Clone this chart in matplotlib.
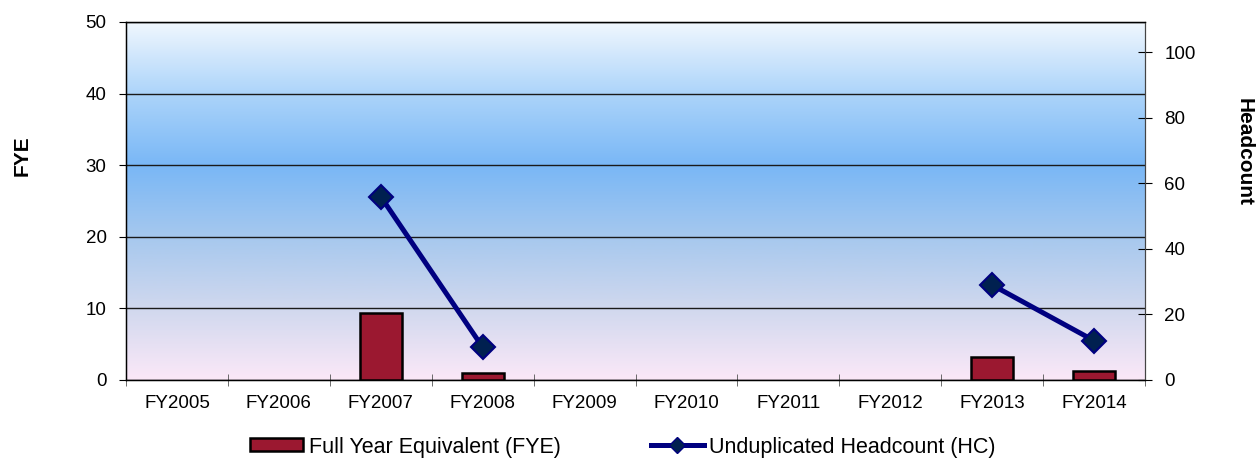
import matplotlib
matplotlib.use("Agg")
import matplotlib.pyplot as plt
import numpy as np
from matplotlib.colors import LinearSegmentedColormap
from matplotlib.lines import Line2D
from matplotlib.patches import Patch

categories = ["FY2005", "FY2006", "FY2007", "FY2008", "FY2009", "FY2010",
              "FY2011", "FY2012", "FY2013", "FY2014"]
fye_values = [0, 0, 9.4, 1.0, 0, 0, 0, 0, 3.2, 1.2]
hc_values = [np.nan, np.nan, 56, 10, np.nan, np.nan, np.nan, np.nan, 29, 12]
left_ticks = [0, 10, 20, 30, 40, 50]
right_ticks = [0, 20, 40, 60, 80, 100]

plt.rcParams['font.family'] = ['Liberation Sans', 'DejaVu Sans']

W, H = 1257, 458
fig = plt.figure(figsize=(W / 100, H / 100), dpi=100)
ax = fig.add_axes([126 / W, 78 / H, (1145 - 126) / W, (380 - 22) / H])

# gradient background
cmap = LinearSegmentedColormap.from_list(
    "bg", [(0.0, "#f0f7fe"), (0.2, "#acd4fa"), (0.4, "#79b7f6"),
           (0.6, "#a6c8ee"), (0.8, "#d0d8ee"), (1.0, "#fbe8f8")])
grad = np.linspace(0, 1, 256).reshape(-1, 1)
ax.imshow(grad, cmap=cmap, aspect='auto', extent=[0, 1, 0, 1],
          transform=ax.transAxes, zorder=0, interpolation='bicubic')

x = np.arange(len(categories))
fye = np.array(fye_values, dtype=float)
nz = fye > 0
ax.bar(x[nz], fye[nz], width=0.41, color="#9b1830", edgecolor="black",
       linewidth=1.8, zorder=3)
ax.set_xlim(-0.5, len(categories) - 0.5)
ax.set_ylim(0, 50)
ax.set_yticks(left_ticks)
ax.yaxis.grid(True, color="#1a1a1a", linewidth=1.0)
for gl in ax.get_ygridlines():
    gl.set_zorder(1)
ax.set_xticks(x)
ax.set_xticklabels(categories)
ax.set_xticks(np.arange(-0.5, len(categories), 1), minor=True)
ax.tick_params(axis='x', which='major', length=0, labelsize=13.5, pad=11)
ax.tick_params(axis='x', which='minor', length=9, direction='inout',
               color="#555555")
ax.tick_params(axis='y', labelsize=13.5, length=5, direction='out', pad=9)
for s in ['left', 'bottom', 'top']:
    ax.spines[s].set_color("black")
    ax.spines[s].set_linewidth(1.0)
ax.spines['right'].set_color("#444444")

ax2 = ax.twinx()
ax2.plot(x, hc_values, color="#000080", linewidth=3.6, marker='D',
         markersize=12.5, markerfacecolor="#002050", markeredgecolor="#000080",
         markeredgewidth=1.5, zorder=5)
ax2.set_ylim(0, 109.3)
ax2.set_yticks(right_ticks)
ax2.tick_params(axis='y', labelsize=13.5, length=10, direction='inout', pad=9)
ax2.spines['right'].set_color("#444444")

fig.text(22 / W, 1 - 156 / H, "FYE", fontsize=15, fontweight='bold',
         rotation=90, ha='center', va='center')
fig.text(1244 / W, 1 - 152 / H, "Headcount", fontsize=15, fontweight='bold',
         rotation=-90, ha='center', va='center')

handles = [Patch(facecolor="#9b1830", edgecolor="black", linewidth=1.8),
           Line2D([], [], color="#000080", linewidth=3.6, marker='D',
                  markersize=8, markerfacecolor="#002050",
                  markeredgecolor="#000080")]
fig.legend(handles, ["Full Year Equivalent (FYE)", "Unduplicated Headcount (HC)"],
           loc='center', bbox_to_anchor=(623 / W, 1 - 447 / H), ncol=2,
           frameon=False, fontsize=15.5, handlelength=2.45, handletextpad=0.25,
           columnspacing=4.2, handleheight=0.56, borderpad=0.0)

fig.savefig("out.png", dpi=100)
